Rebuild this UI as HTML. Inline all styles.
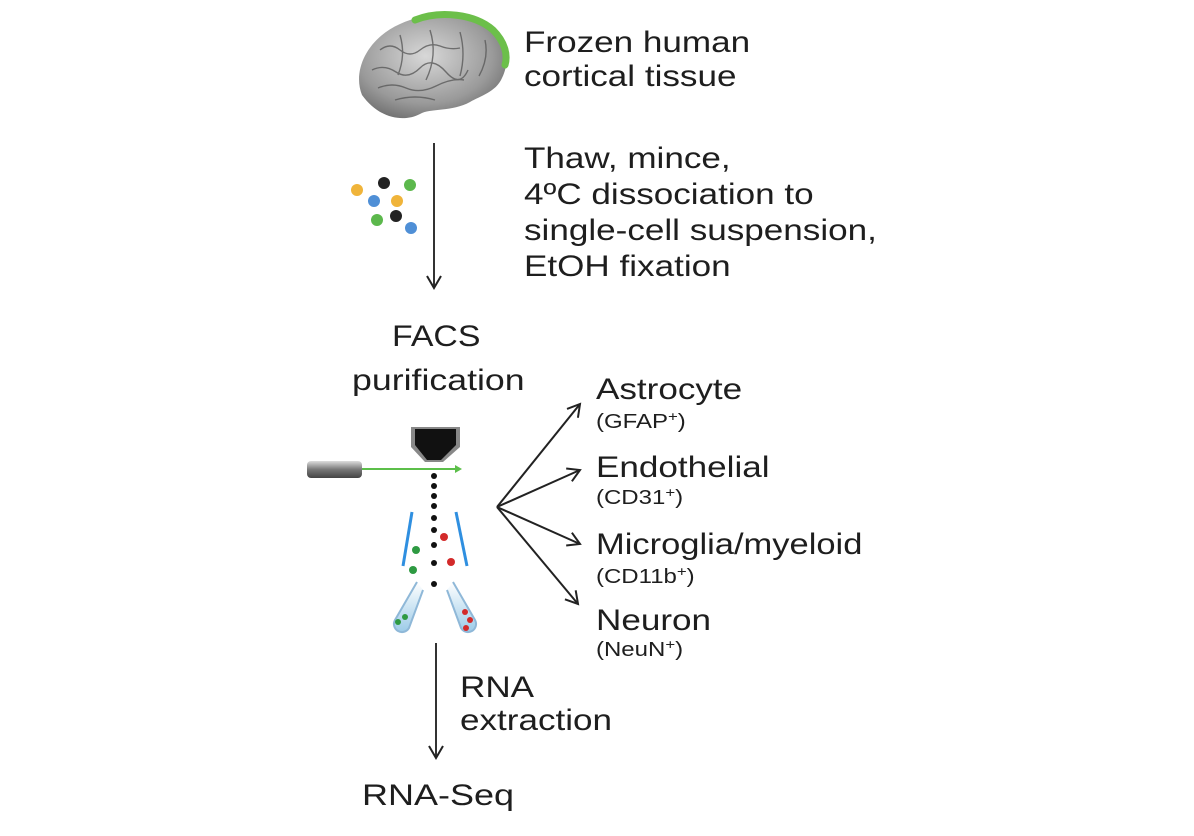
<!DOCTYPE html>
<html><head><meta charset="utf-8"><style>
html,body{margin:0;padding:0;background:#fff;}
svg{display:block;}
text{font-family:"Liberation Sans",Arial,sans-serif;fill:#1e1e1e;}
</style></head><body>
<svg width="1194" height="836" viewBox="0 0 1194 836">
<defs>
<radialGradient id="bg" cx="45%" cy="40%" r="65%"><stop offset="0" stop-color="#d8d8d8"/><stop offset="0.7" stop-color="#9a9a9a"/><stop offset="1" stop-color="#6e6e6e"/></radialGradient>
<linearGradient id="tube" x1="0" y1="0" x2="0" y2="1"><stop offset="0" stop-color="#ddd"/><stop offset="0.5" stop-color="#777"/><stop offset="1" stop-color="#444"/></linearGradient>
<linearGradient id="tt" x1="0" y1="0" x2="0" y2="1"><stop offset="0" stop-color="#fff"/><stop offset="1" stop-color="#9ccbe8"/></linearGradient>
<marker id="ah" markerWidth="16" markerHeight="16" refX="13" refY="8" orient="auto" markerUnits="userSpaceOnUse"><path d="M1,1 L13,8 L1,15" fill="none" stroke="#222" stroke-width="2"/></marker>
</defs>

<g>
<path d="M362,95 C352,70 368,38 400,24 C430,10 470,12 492,28 C508,40 510,62 502,78 C496,92 480,96 470,102 C452,112 430,108 420,114 C405,122 380,120 362,95 Z" fill="url(#bg)"/>
<path d="M415,20 C440,10 475,14 493,30 C505,42 508,55 505,65" fill="none" stroke="#6cbf4a" stroke-width="7" stroke-linecap="round"/>
<g fill="none" stroke="#5a5a5a" stroke-width="1.4" opacity="0.8">
<path d="M380,50 q10,-8 20,0 t20,0 t20,-4 t20,2"/><path d="M372,70 q12,-6 24,2 t24,-4 t26,4 t22,-2"/>
<path d="M378,88 q14,-6 28,0 t30,-2 t28,-6"/><path d="M400,35 q6,20 -2,40"/><path d="M430,30 q8,25 -4,50"/>
<path d="M460,32 q6,22 0,44"/><path d="M485,40 q4,18 -6,36"/><path d="M395,100 q20,-6 40,0"/>
</g>
</g>

<g>
<circle cx="357" cy="190" r="6" fill="#f0b43a"/><circle cx="384" cy="183" r="6" fill="#222"/><circle cx="410" cy="185" r="6" fill="#5cb84c"/>
<circle cx="374" cy="201" r="6" fill="#4f8fd6"/><circle cx="397" cy="201" r="6" fill="#f0b43a"/>
<circle cx="377" cy="220" r="6" fill="#5cb84c"/><circle cx="396" cy="216" r="6" fill="#222"/><circle cx="411" cy="228" r="6" fill="#4f8fd6"/>
</g>

<line x1="434" y1="143" x2="434" y2="288" stroke="#333" stroke-width="2" marker-end="url(#ah)"/>

<g>
<path d="M411,427 L460,427 L460,447 L443,462 L425,462 L411,447 Z" fill="#888"/>
<path d="M415,429 L456,429 L456,445 L441,460 L427,460 L415,445 Z" fill="#111"/>
<rect x="307" y="461" width="55" height="17" rx="4" fill="url(#tube)"/>
<line x1="362" y1="469" x2="458" y2="469" stroke="#5cbf4a" stroke-width="2"/>
<polygon points="462,469 455,465 455,473" fill="#5cbf4a"/>
<g fill="#111"><circle cx="434" cy="476" r="3"/><circle cx="434" cy="486" r="3"/><circle cx="434" cy="496" r="3"/><circle cx="434" cy="506" r="3"/><circle cx="434" cy="518" r="3"/><circle cx="434" cy="530" r="3"/><circle cx="434" cy="545" r="3"/><circle cx="434" cy="563" r="3"/><circle cx="434" cy="584" r="3"/></g>
<circle cx="444" cy="537" r="4" fill="#d32a2a"/><circle cx="451" cy="562" r="4" fill="#d32a2a"/>
<circle cx="416" cy="550" r="4" fill="#2e9a42"/><circle cx="413" cy="570" r="4" fill="#2e9a42"/>
<line x1="412" y1="512" x2="403" y2="566" stroke="#2f8fe0" stroke-width="3"/>
<line x1="456" y1="512" x2="467" y2="566" stroke="#2f8fe0" stroke-width="3"/>
<path d="M417,582 L395,620 a8,8 0 0 0 14,8 L423,590" fill="url(#tt)" stroke="#8fb8d8" stroke-width="2"/>
<path d="M453,582 L475,620 a8,8 0 0 1 -14,8 L447,590" fill="url(#tt)" stroke="#8fb8d8" stroke-width="2"/>
<circle cx="398" cy="622" r="3" fill="#2e9a42"/><circle cx="405" cy="617" r="3" fill="#2e9a42"/>
<circle cx="465" cy="612" r="3" fill="#d32a2a"/><circle cx="470" cy="620" r="3" fill="#d32a2a"/><circle cx="466" cy="628" r="3" fill="#d32a2a"/>
</g>

<g stroke="#222" stroke-width="2">
<line x1="497" y1="507" x2="580" y2="404" marker-end="url(#ah)"/>
<line x1="497" y1="507" x2="580" y2="470" marker-end="url(#ah)"/>
<line x1="497" y1="507" x2="580" y2="544" marker-end="url(#ah)"/>
<line x1="497" y1="507" x2="578" y2="604" marker-end="url(#ah)"/>
</g>

<line x1="436" y1="643" x2="436" y2="758" stroke="#333" stroke-width="2" marker-end="url(#ah)"/>

<g font-size="30">
<text transform="translate(524,52) scale(1.17,1)">Frozen human</text>
<text transform="translate(524,86) scale(1.17,1)">cortical tissue</text>
<text transform="translate(524,168) scale(1.17,1)">Thaw, mince,</text>
<text transform="translate(524,204) scale(1.17,1)">4ºC dissociation to</text>
<text transform="translate(524,240) scale(1.17,1)">single-cell suspension,</text>
<text transform="translate(524,276) scale(1.17,1)">EtOH fixation</text>
<text transform="translate(392,346) scale(1.13,1)">FACS</text>
<text transform="translate(352,390) scale(1.19,1)">purification</text>
<text transform="translate(596,399) scale(1.17,1)">Astrocyte</text>
<text transform="translate(596,477) scale(1.17,1)">Endothelial</text>
<text transform="translate(596,554) scale(1.15,1)">Microglia/myeloid</text>
<text transform="translate(596,630) scale(1.17,1)">Neuron</text>
<text transform="translate(460,697) scale(1.17,1)">RNA</text>
<text transform="translate(460,730) scale(1.17,1)">extraction</text>
<text transform="translate(362,805) scale(1.2,1)">RNA-Seq</text>
</g>
<g font-size="20">
<text transform="translate(596,428) scale(1.2,1)">(GFAP<tspan font-size="14" dy="-7">+</tspan><tspan dy="7">)</tspan></text>
<text transform="translate(596,504) scale(1.2,1)">(CD31<tspan font-size="14" dy="-7">+</tspan><tspan dy="7">)</tspan></text>
<text transform="translate(596,583) scale(1.2,1)">(CD11b<tspan font-size="14" dy="-7">+</tspan><tspan dy="7">)</tspan></text>
<text transform="translate(596,656) scale(1.2,1)">(NeuN<tspan font-size="14" dy="-7">+</tspan><tspan dy="7">)</tspan></text>
</g>
</svg>
</body></html>
